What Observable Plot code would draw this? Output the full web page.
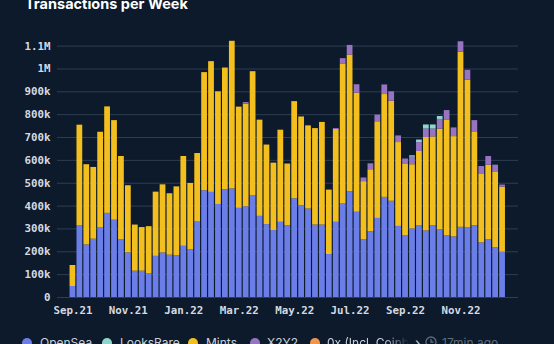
<!DOCTYPE html>
<html><head><meta charset="utf-8">
<script src="https://cdn.jsdelivr.net/npm/d3@7"></script>
<script src="https://cdn.jsdelivr.net/npm/@observablehq/plot@0.6"></script>
<style>
html,body{margin:0;padding:0;background:#0c1a2b;width:554px;height:344px;overflow:hidden;}
#wrap{position:relative;width:554px;height:344px;}
#title{position:absolute;left:25px;top:-6px;font:700 14.5px Inter, "Noto Sans", sans-serif;color:#ffffff;white-space:nowrap;line-height:20px;}
#chart{position:absolute;left:0;top:0;}
#legend{position:absolute;left:0;top:336px;width:554px;height:20px;font:400 12px Inter, "Noto Sans", sans-serif;color:#c9d1dc;}
.it{position:absolute;top:0;white-space:nowrap;line-height:14px;}
.dot{position:absolute;top:2px;width:10px;height:10px;border-radius:50%;}
.fade{-webkit-mask-image:linear-gradient(to right,#000 70%,transparent 100%);mask-image:linear-gradient(to right,#000 70%,transparent 100%);overflow:hidden;width:82px;}
</style>
</head><body>
<div id="wrap">
<div id="title">Transactions per Week</div>
<div id="chart"></div>
<div id="legend"></div>
</div>
<script>
// values in thousands of transactions, one per week (63 weeks)
const weeks = d3.range(1, 64);
const openSea = [48,313,230,255,304,368,338,252,195,115,115,105,180,195,185,183,224,209,330,467,460,407,472,475,390,397,445,355,319,293,329,314,432,402,387,317,317,188,329,409,463,373,253,288,346,438,421,311,271,300,313,291,314,296,271,265,307,306,314,239,253,218,198];
const mints = [92,441,351,314,419,466,436,365,294,202,191,205,281,298,269,301,393,290,300,517,572,493,532,646,443,449,543,421,348,295,403,270,425,388,364,422,449,282,406,613,598,521,254,271,423,450,438,367,311,281,326,409,389,441,506,439,767,645,408,302,326,329,285];
const x2y2 = [0,0,0,0,0,0,0,0,0,0,0,0,0,0,0,0,0,0,0,0,0,0,0,0,0,7,0,0,0,0,0,0,0,0,0,0,0,0,4,23,42,37,16,26,29,42,41,29,24,33,39,37,34,42,41,38,45,43,52,32,38,32,9];
const looksRare = [0,0,0,0,0,0,0,0,0,0,0,0,0,0,0,0,0,0,0,0,0,0,0,0,0,0,0,0,0,0,0,0,0,0,0,0,0,0,0,0,0,0,0,0,0,0,0,0,0,6,11,18,18,13,0,0,0,0,0,0,0,0,0];

const seriesNames = ["OpenSea","LooksRare","Mints","X2Y2","0x (Incl. Coinbase)"];
const seriesColors = ["#6b7ee8","#8fd5cc","#f2bf1f","#9873c2","#f0954a"];
const stackOrder = ["OpenSea","Mints","X2Y2","LooksRare"];

const xTicks = [1,9,17,25,33,41,49,57];
const xTickLabels = ["Sep.21","Nov.21","Jan.22","Mar.22","May.22","Jul.22","Sep.22","Nov.22"];
const yTicks = [0,100000,200000,300000,400000,500000,600000,700000,800000,900000,1000000,1100000];
const yTickLabels = ["0","100k","200k","300k","400k","500k","600k","700k","800k","900k","1M","1.1M"];

const seriesValues = {OpenSea: openSea, Mints: mints, X2Y2: x2y2, LooksRare: looksRare};
const data = [];
weeks.forEach((w, i) => {
  for (const s of stackOrder) data.push({week: w, series: s, value: seriesValues[s][i] * 1000});
});

const chart = Plot.plot({
  width: 554,
  height: 320,
  marginTop: 45.6,
  marginBottom: 23,
  marginLeft: 57,
  marginRight: 36,
  style: {background: "transparent", color: "#d5d9e0", fontFamily: "'DejaVu Sans Mono', monospace", fontSize: "10.8px", fontWeight: "bold"},
  x: {type: "band", domain: weeks, paddingInner: 0.17, paddingOuter: 0.08, insetLeft: 12, insetRight: 12.5, axis: null, label: null},
  y: {domain: [0, 1100000], axis: null, label: null},
  color: {domain: seriesNames, range: seriesColors},
  marks: [
    Plot.gridY(yTicks, {stroke: "#2e3e52", strokeOpacity: 1, strokeWidth: 1}),
    Plot.barY(data, {x: "week", y: "value", fill: "series", order: stackOrder}),
    Plot.axisY(yTicks, {tickSize: 0, tickPadding: 7, label: null, tickFormat: d => yTickLabels[yTicks.indexOf(d)], fill: "#d5d9e0"}),
    Plot.axisX(xTicks, {tickSize: 0, tickPadding: 9, label: null, tickFormat: d => xTickLabels[xTicks.indexOf(d)], fill: "#d5d9e0"})
  ]
});
document.getElementById("chart").appendChild(chart);

// legend
const legend = document.getElementById("legend");
const dotX = [22, 102, 188, 250, 310];
const textX = [40, 120, 206, 267, 327];
seriesNames.forEach((name, i) => {
  const d = document.createElement("div");
  d.className = "dot"; d.style.left = dotX[i] + "px"; d.style.background = seriesColors[i];
  legend.appendChild(d);
  const t = document.createElement("div");
  t.className = "it" + (i === 4 ? " fade" : ""); t.style.left = textX[i] + "px"; t.textContent = name;
  legend.appendChild(t);
});
const chev = document.createElement("div");
chev.className = "it"; chev.style.left = "415px"; chev.style.fontSize = "14px"; chev.textContent = "\u203A";
legend.appendChild(chev);
const ago = document.createElement("div");
ago.className = "it"; ago.style.left = "425px"; ago.style.color = "#5d6b7c";
ago.innerHTML = '<svg width="12" height="12" viewBox="0 0 12 12" style="vertical-align:-1px;margin-right:5px"><circle cx="6" cy="6" r="5" fill="none" stroke="#5d6b7c" stroke-width="1.3"/><path d="M6 3v3h2.5" fill="none" stroke="#5d6b7c" stroke-width="1.3"/></svg>17min ago';
legend.appendChild(ago);
</script>
</body></html>
